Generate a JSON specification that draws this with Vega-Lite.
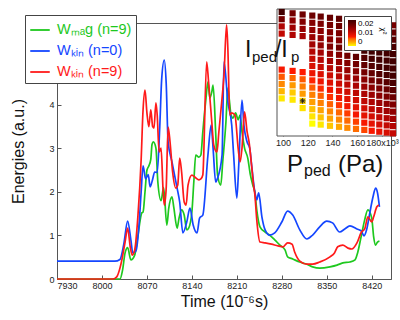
{
  "$schema": "https://vega.github.io/schema/vega-lite/v6.json",
  "width": 334,
  "height": 256,
  "autosize": {"type": "none"},
  "padding": {"left": 57, "top": 23, "right": 9, "bottom": 41},
  "config": {
    "font": "Liberation Sans",
    "view": {"stroke": "#555", "strokeWidth": 1},
    "axis": {"labelFont": "Liberation Sans", "titleFont": "Liberation Sans", "labelFontSize": 9, "domainColor": "#555", "tickColor": "#555", "labelColor": "#222", "titleColor": "#111", "grid": false, "titleFontWeight": "normal"},
    "legend": {"labelFont": "Liberation Sans", "titleFont": "Liberation Sans"}
  },
  "datasets": {
    "energy": [
      {"t":7930,"e":0,"s":"W_mag (n=9)"},{"t":8028,"e":0,"s":"W_mag (n=9)"},{"t":8032,"e":0.2,"s":"W_mag (n=9)"},{"t":8036,"e":0.6,"s":"W_mag (n=9)"},{"t":8040,"e":0.72,"s":"W_mag (n=9)"},{"t":8045,"e":0.44,"s":"W_mag (n=9)"},{"t":8051,"e":0.55,"s":"W_mag (n=9)"},{"t":8056,"e":1.0,"s":"W_mag (n=9)"},{"t":8062,"e":1.52,"s":"W_mag (n=9)"},{"t":8064,"e":1.54,"s":"W_mag (n=9)"},{"t":8067,"e":2.0,"s":"W_mag (n=9)"},{"t":8070,"e":2.5,"s":"W_mag (n=9)"},{"t":8073,"e":2.6,"s":"W_mag (n=9)"},{"t":8076,"e":2.75,"s":"W_mag (n=9)"},{"t":8078,"e":3.1,"s":"W_mag (n=9)"},{"t":8080,"e":3.15,"s":"W_mag (n=9)"},{"t":8084,"e":3.01,"s":"W_mag (n=9)"},{"t":8087,"e":2.23,"s":"W_mag (n=9)"},{"t":8092,"e":1.8,"s":"W_mag (n=9)"},{"t":8096,"e":2.1,"s":"W_mag (n=9)"},{"t":8101,"e":1.24,"s":"W_mag (n=9)"},{"t":8104,"e":1.63,"s":"W_mag (n=9)"},{"t":8109,"e":1.89,"s":"W_mag (n=9)"},{"t":8112,"e":1.63,"s":"W_mag (n=9)"},{"t":8117,"e":1.17,"s":"W_mag (n=9)"},{"t":8120,"e":1.4,"s":"W_mag (n=9)"},{"t":8124,"e":1.59,"s":"W_mag (n=9)"},{"t":8128,"e":1.47,"s":"W_mag (n=9)"},{"t":8132,"e":1.13,"s":"W_mag (n=9)"},{"t":8135,"e":1.17,"s":"W_mag (n=9)"},{"t":8140,"e":1.54,"s":"W_mag (n=9)"},{"t":8143,"e":2.23,"s":"W_mag (n=9)"},{"t":8146,"e":2.85,"s":"W_mag (n=9)"},{"t":8151,"e":2.8,"s":"W_mag (n=9)"},{"t":8154,"e":2.85,"s":"W_mag (n=9)"},{"t":8157,"e":3.38,"s":"W_mag (n=9)"},{"t":8162,"e":4.16,"s":"W_mag (n=9)"},{"t":8165,"e":4.53,"s":"W_mag (n=9)"},{"t":8168,"e":4.16,"s":"W_mag (n=9)"},{"t":8171,"e":4.3,"s":"W_mag (n=9)"},{"t":8173,"e":4.46,"s":"W_mag (n=9)"},{"t":8177,"e":3.38,"s":"W_mag (n=9)"},{"t":8180,"e":2.39,"s":"W_mag (n=9)"},{"t":8185,"e":2.16,"s":"W_mag (n=9)"},{"t":8188,"e":2.69,"s":"W_mag (n=9)"},{"t":8193,"e":3.61,"s":"W_mag (n=9)"},{"t":8196,"e":4.39,"s":"W_mag (n=9)"},{"t":8198,"e":4.16,"s":"W_mag (n=9)"},{"t":8201,"e":3.77,"s":"W_mag (n=9)"},{"t":8204,"e":3.7,"s":"W_mag (n=9)"},{"t":8208,"e":3.82,"s":"W_mag (n=9)"},{"t":8212,"e":3.66,"s":"W_mag (n=9)"},{"t":8215,"e":3.77,"s":"W_mag (n=9)"},{"t":8218,"e":3.38,"s":"W_mag (n=9)"},{"t":8222,"e":3.01,"s":"W_mag (n=9)"},{"t":8227,"e":2.78,"s":"W_mag (n=9)"},{"t":8231,"e":2.4,"s":"W_mag (n=9)"},{"t":8235,"e":2.15,"s":"W_mag (n=9)"},{"t":8238,"e":2.0,"s":"W_mag (n=9)"},{"t":8241,"e":1.59,"s":"W_mag (n=9)"},{"t":8246,"e":1.2,"s":"W_mag (n=9)"},{"t":8254,"e":1.08,"s":"W_mag (n=9)"},{"t":8261,"e":1.01,"s":"W_mag (n=9)"},{"t":8269,"e":0.9,"s":"W_mag (n=9)"},{"t":8277,"e":0.78,"s":"W_mag (n=9)"},{"t":8285,"e":0.67,"s":"W_mag (n=9)"},{"t":8289,"e":0.51,"s":"W_mag (n=9)"},{"t":8297,"e":0.46,"s":"W_mag (n=9)"},{"t":8308,"e":0.39,"s":"W_mag (n=9)"},{"t":8319,"e":0.34,"s":"W_mag (n=9)"},{"t":8328,"e":0.28,"s":"W_mag (n=9)"},{"t":8339,"e":0.25,"s":"W_mag (n=9)"},{"t":8355,"e":0.28,"s":"W_mag (n=9)"},{"t":8366,"e":0.32,"s":"W_mag (n=9)"},{"t":8375,"e":0.37,"s":"W_mag (n=9)"},{"t":8386,"e":0.39,"s":"W_mag (n=9)"},{"t":8394,"e":0.44,"s":"W_mag (n=9)"},{"t":8398,"e":0.6,"s":"W_mag (n=9)"},{"t":8404,"e":1.01,"s":"W_mag (n=9)"},{"t":8409,"e":1.36,"s":"W_mag (n=9)"},{"t":8414,"e":1.59,"s":"W_mag (n=9)"},{"t":8420,"e":1.4,"s":"W_mag (n=9)"},{"t":8423,"e":0.97,"s":"W_mag (n=9)"},{"t":8426,"e":0.78,"s":"W_mag (n=9)"},{"t":8429,"e":0.85,"s":"W_mag (n=9)"},{"t":8432,"e":0.87,"s":"W_mag (n=9)"},
      {"t":7930,"e":0.41,"s":"W_kin (n=0)"},{"t":8020,"e":0.41,"s":"W_kin (n=0)"},{"t":8028,"e":0.45,"s":"W_kin (n=0)"},{"t":8034,"e":0.8,"s":"W_kin (n=0)"},{"t":8040,"e":1.33,"s":"W_kin (n=0)"},{"t":8045,"e":0.9,"s":"W_kin (n=0)"},{"t":8048,"e":0.6,"s":"W_kin (n=0)"},{"t":8053,"e":0.65,"s":"W_kin (n=0)"},{"t":8058,"e":1.3,"s":"W_kin (n=0)"},{"t":8061,"e":2.0,"s":"W_kin (n=0)"},{"t":8064,"e":2.6,"s":"W_kin (n=0)"},{"t":8068,"e":2.3,"s":"W_kin (n=0)"},{"t":8072,"e":2.4,"s":"W_kin (n=0)"},{"t":8075,"e":2.12,"s":"W_kin (n=0)"},{"t":8079,"e":2.3,"s":"W_kin (n=0)"},{"t":8082,"e":2.46,"s":"W_kin (n=0)"},{"t":8086,"e":2.45,"s":"W_kin (n=0)"},{"t":8090,"e":3.5,"s":"W_kin (n=0)"},{"t":8093,"e":4.6,"s":"W_kin (n=0)"},{"t":8097,"e":5.03,"s":"W_kin (n=0)"},{"t":8100,"e":4.5,"s":"W_kin (n=0)"},{"t":8103,"e":3.15,"s":"W_kin (n=0)"},{"t":8109,"e":2.69,"s":"W_kin (n=0)"},{"t":8117,"e":2.09,"s":"W_kin (n=0)"},{"t":8121,"e":1.77,"s":"W_kin (n=0)"},{"t":8126,"e":1.06,"s":"W_kin (n=0)"},{"t":8132,"e":1.31,"s":"W_kin (n=0)"},{"t":8137,"e":1.63,"s":"W_kin (n=0)"},{"t":8142,"e":1.24,"s":"W_kin (n=0)"},{"t":8148,"e":1.06,"s":"W_kin (n=0)"},{"t":8152,"e":1.4,"s":"W_kin (n=0)"},{"t":8157,"e":1.47,"s":"W_kin (n=0)"},{"t":8165,"e":2.85,"s":"W_kin (n=0)"},{"t":8170,"e":3.54,"s":"W_kin (n=0)"},{"t":8173,"e":3.01,"s":"W_kin (n=0)"},{"t":8177,"e":2.23,"s":"W_kin (n=0)"},{"t":8180,"e":2.32,"s":"W_kin (n=0)"},{"t":8187,"e":2.85,"s":"W_kin (n=0)"},{"t":8190,"e":4.99,"s":"W_kin (n=0)"},{"t":8196,"e":4.07,"s":"W_kin (n=0)"},{"t":8202,"e":3.54,"s":"W_kin (n=0)"},{"t":8205,"e":2.85,"s":"W_kin (n=0)"},{"t":8210,"e":1.86,"s":"W_kin (n=0)"},{"t":8213,"e":2.62,"s":"W_kin (n=0)"},{"t":8218,"e":4.11,"s":"W_kin (n=0)"},{"t":8221,"e":3.54,"s":"W_kin (n=0)"},{"t":8226,"e":3.15,"s":"W_kin (n=0)"},{"t":8230,"e":3.01,"s":"W_kin (n=0)"},{"t":8233,"e":2.62,"s":"W_kin (n=0)"},{"t":8238,"e":2.0,"s":"W_kin (n=0)"},{"t":8241,"e":1.82,"s":"W_kin (n=0)"},{"t":8244,"e":1.98,"s":"W_kin (n=0)"},{"t":8249,"e":1.43,"s":"W_kin (n=0)"},{"t":8254,"e":1.13,"s":"W_kin (n=0)"},{"t":8261,"e":1.01,"s":"W_kin (n=0)"},{"t":8269,"e":1.06,"s":"W_kin (n=0)"},{"t":8280,"e":1.31,"s":"W_kin (n=0)"},{"t":8289,"e":1.56,"s":"W_kin (n=0)"},{"t":8297,"e":1.47,"s":"W_kin (n=0)"},{"t":8308,"e":1.13,"s":"W_kin (n=0)"},{"t":8319,"e":0.92,"s":"W_kin (n=0)"},{"t":8328,"e":1.01,"s":"W_kin (n=0)"},{"t":8339,"e":1.2,"s":"W_kin (n=0)"},{"t":8350,"e":1.33,"s":"W_kin (n=0)"},{"t":8359,"e":1.29,"s":"W_kin (n=0)"},{"t":8370,"e":1.08,"s":"W_kin (n=0)"},{"t":8378,"e":1.15,"s":"W_kin (n=0)"},{"t":8386,"e":1.22,"s":"W_kin (n=0)"},{"t":8397,"e":1.15,"s":"W_kin (n=0)"},{"t":8404,"e":1.1,"s":"W_kin (n=0)"},{"t":8408,"e":0.99,"s":"W_kin (n=0)"},{"t":8412,"e":1.13,"s":"W_kin (n=0)"},{"t":8417,"e":1.52,"s":"W_kin (n=0)"},{"t":8422,"e":1.89,"s":"W_kin (n=0)"},{"t":8426,"e":2.09,"s":"W_kin (n=0)"},{"t":8429,"e":1.98,"s":"W_kin (n=0)"},{"t":8432,"e":1.66,"s":"W_kin (n=0)"},
      {"t":7930,"e":0,"s":"W_kin (n=9)"},{"t":8017,"e":0,"s":"W_kin (n=9)"},{"t":8023,"e":0.05,"s":"W_kin (n=9)"},{"t":8028,"e":0.25,"s":"W_kin (n=9)"},{"t":8031,"e":0.44,"s":"W_kin (n=9)"},{"t":8036,"e":0.85,"s":"W_kin (n=9)"},{"t":8040,"e":1.17,"s":"W_kin (n=9)"},{"t":8044,"e":0.74,"s":"W_kin (n=9)"},{"t":8047,"e":0.55,"s":"W_kin (n=9)"},{"t":8051,"e":0.67,"s":"W_kin (n=9)"},{"t":8056,"e":1.45,"s":"W_kin (n=9)"},{"t":8061,"e":2.74,"s":"W_kin (n=9)"},{"t":8064,"e":3.89,"s":"W_kin (n=9)"},{"t":8067,"e":4.34,"s":"W_kin (n=9)"},{"t":8070,"e":3.82,"s":"W_kin (n=9)"},{"t":8073,"e":3.5,"s":"W_kin (n=9)"},{"t":8076,"e":3.89,"s":"W_kin (n=9)"},{"t":8079,"e":3.5,"s":"W_kin (n=9)"},{"t":8081,"e":3.47,"s":"W_kin (n=9)"},{"t":8084,"e":4.05,"s":"W_kin (n=9)"},{"t":8086,"e":3.77,"s":"W_kin (n=9)"},{"t":8089,"e":2.92,"s":"W_kin (n=9)"},{"t":8092,"e":3.01,"s":"W_kin (n=9)"},{"t":8095,"e":2.09,"s":"W_kin (n=9)"},{"t":8097,"e":1.7,"s":"W_kin (n=9)"},{"t":8100,"e":2.09,"s":"W_kin (n=9)"},{"t":8103,"e":3.49,"s":"W_kin (n=9)"},{"t":8106,"e":3.15,"s":"W_kin (n=9)"},{"t":8110,"e":2.46,"s":"W_kin (n=9)"},{"t":8115,"e":2.09,"s":"W_kin (n=9)"},{"t":8118,"e":2.16,"s":"W_kin (n=9)"},{"t":8121,"e":2.78,"s":"W_kin (n=9)"},{"t":8124,"e":2.46,"s":"W_kin (n=9)"},{"t":8128,"e":1.77,"s":"W_kin (n=9)"},{"t":8131,"e":1.7,"s":"W_kin (n=9)"},{"t":8134,"e":2.16,"s":"W_kin (n=9)"},{"t":8140,"e":2.39,"s":"W_kin (n=9)"},{"t":8145,"e":2.34,"s":"W_kin (n=9)"},{"t":8151,"e":2.28,"s":"W_kin (n=9)"},{"t":8154,"e":2.3,"s":"W_kin (n=9)"},{"t":8157,"e":2.39,"s":"W_kin (n=9)"},{"t":8163,"e":4.99,"s":"W_kin (n=9)"},{"t":8166,"e":4.53,"s":"W_kin (n=9)"},{"t":8171,"e":3.61,"s":"W_kin (n=9)"},{"t":8174,"e":3.08,"s":"W_kin (n=9)"},{"t":8179,"e":2.92,"s":"W_kin (n=9)"},{"t":8182,"e":3.38,"s":"W_kin (n=9)"},{"t":8187,"e":4.16,"s":"W_kin (n=9)"},{"t":8190,"e":4.69,"s":"W_kin (n=9)"},{"t":8194,"e":5.84,"s":"W_kin (n=9)"},{"t":8196,"e":5.3,"s":"W_kin (n=9)"},{"t":8199,"e":3.77,"s":"W_kin (n=9)"},{"t":8202,"e":3.82,"s":"W_kin (n=9)"},{"t":8207,"e":3.77,"s":"W_kin (n=9)"},{"t":8212,"e":3.01,"s":"W_kin (n=9)"},{"t":8215,"e":2.69,"s":"W_kin (n=9)"},{"t":8218,"e":3.01,"s":"W_kin (n=9)"},{"t":8222,"e":3.84,"s":"W_kin (n=9)"},{"t":8226,"e":3.38,"s":"W_kin (n=9)"},{"t":8229,"e":3.15,"s":"W_kin (n=9)"},{"t":8233,"e":2.6,"s":"W_kin (n=9)"},{"t":8236,"e":2.15,"s":"W_kin (n=9)"},{"t":8238,"e":1.95,"s":"W_kin (n=9)"},{"t":8241,"e":1.36,"s":"W_kin (n=9)"},{"t":8246,"e":0.85,"s":"W_kin (n=9)"},{"t":8254,"e":0.83,"s":"W_kin (n=9)"},{"t":8264,"e":0.8,"s":"W_kin (n=9)"},{"t":8274,"e":0.76,"s":"W_kin (n=9)"},{"t":8282,"e":0.74,"s":"W_kin (n=9)"},{"t":8289,"e":0.83,"s":"W_kin (n=9)"},{"t":8296,"e":0.8,"s":"W_kin (n=9)"},{"t":8300,"e":0.62,"s":"W_kin (n=9)"},{"t":8308,"e":0.41,"s":"W_kin (n=9)"},{"t":8319,"e":0.34,"s":"W_kin (n=9)"},{"t":8328,"e":0.34,"s":"W_kin (n=9)"},{"t":8339,"e":0.39,"s":"W_kin (n=9)"},{"t":8355,"e":0.51,"s":"W_kin (n=9)"},{"t":8362,"e":0.6,"s":"W_kin (n=9)"},{"t":8367,"e":0.74,"s":"W_kin (n=9)"},{"t":8375,"e":0.78,"s":"W_kin (n=9)"},{"t":8383,"e":0.71,"s":"W_kin (n=9)"},{"t":8389,"e":0.69,"s":"W_kin (n=9)"},{"t":8397,"e":0.83,"s":"W_kin (n=9)"},{"t":8404,"e":1.08,"s":"W_kin (n=9)"},{"t":8409,"e":1.15,"s":"W_kin (n=9)"},{"t":8414,"e":1.43,"s":"W_kin (n=9)"},{"t":8420,"e":1.31,"s":"W_kin (n=9)"},{"t":8423,"e":1.43,"s":"W_kin (n=9)"},{"t":8428,"e":1.66,"s":"W_kin (n=9)"},{"t":8431,"e":1.7,"s":"W_kin (n=9)"}
    ],
    "scan": [
      {"P":99,"I":0.174,"chi":0.02},{"P":99,"I":0.1668,"chi":0.016},{"P":99,"I":0.1596,"chi":0.0121},{"P":99,"I":0.1524,"chi":0.0109},{"P":99,"I":0.1164,"chi":0.0075},{"P":99,"I":0.1092,"chi":0.0058},{"P":99,"I":0.102,"chi":0.0042},{"P":99,"I":0.0948,"chi":0.0025},{"P":99,"I":0.0876,"chi":0.0008},
      {"P":107.8,"I":0.1727,"chi":0.016},{"P":107.8,"I":0.1655,"chi":0.0144},{"P":107.8,"I":0.1583,"chi":0.0132},{"P":107.8,"I":0.1511,"chi":0.012},{"P":107.8,"I":0.1151,"chi":0.007},{"P":107.8,"I":0.1079,"chi":0.0052},{"P":107.8,"I":0.1007,"chi":0.0035},{"P":107.8,"I":0.0935,"chi":0.0018},{"P":107.8,"I":0.0863,"chi":0.0008},
      {"P":115.9,"I":0.1715,"chi":0.0163},{"P":115.9,"I":0.1643,"chi":0.015},{"P":115.9,"I":0.1571,"chi":0.0138},{"P":115.9,"I":0.1499,"chi":0.0128},{"P":115.9,"I":0.1139,"chi":0.007},{"P":115.9,"I":0.1067,"chi":0.0058},{"P":115.9,"I":0.0995,"chi":0.0046},{"P":115.9,"I":0.0923,"chi":0.0034},{"P":115.9,"I":0.0851,"chi":0.0015,"best":1},{"P":115.9,"I":0.0779,"chi":0.001},
      {"P":123.7,"I":0.1704,"chi":0.0165},{"P":123.7,"I":0.1632,"chi":0.015},{"P":123.7,"I":0.156,"chi":0.014},{"P":123.7,"I":0.1488,"chi":0.0135},{"P":123.7,"I":0.1416,"chi":0.013},{"P":123.7,"I":0.1344,"chi":0.0118},{"P":123.7,"I":0.1272,"chi":0.0106},{"P":123.7,"I":0.12,"chi":0.0094},{"P":123.7,"I":0.1128,"chi":0.0081},{"P":123.7,"I":0.1056,"chi":0.0069},{"P":123.7,"I":0.0984,"chi":0.0057},{"P":123.7,"I":0.0912,"chi":0.0045},{"P":123.7,"I":0.084,"chi":0.0033},{"P":123.7,"I":0.0768,"chi":0.0021},{"P":123.7,"I":0.0696,"chi":0.0009},{"P":123.7,"I":0.0624,"chi":0},
      {"P":130.5,"I":0.1694,"chi":0.0168},{"P":130.5,"I":0.1622,"chi":0.0155},{"P":130.5,"I":0.155,"chi":0.0145},{"P":130.5,"I":0.1478,"chi":0.014},{"P":130.5,"I":0.1406,"chi":0.0141},{"P":130.5,"I":0.1334,"chi":0.0129},{"P":130.5,"I":0.1262,"chi":0.0117},{"P":130.5,"I":0.119,"chi":0.0105},{"P":130.5,"I":0.1118,"chi":0.0092},{"P":130.5,"I":0.1046,"chi":0.008},{"P":130.5,"I":0.0974,"chi":0.0068},{"P":130.5,"I":0.0902,"chi":0.0056},{"P":130.5,"I":0.083,"chi":0.0044},{"P":130.5,"I":0.0758,"chi":0.0032},{"P":130.5,"I":0.0686,"chi":0.002},{"P":130.5,"I":0.0614,"chi":0.0008},
      {"P":138,"I":0.1682,"chi":0.017},{"P":138,"I":0.161,"chi":0.016},{"P":138,"I":0.1538,"chi":0.015},{"P":138,"I":0.1466,"chi":0.0145},{"P":138,"I":0.1394,"chi":0.0152},{"P":138,"I":0.1322,"chi":0.014},{"P":138,"I":0.125,"chi":0.0128},{"P":138,"I":0.1178,"chi":0.0116},{"P":138,"I":0.1106,"chi":0.0103},{"P":138,"I":0.1034,"chi":0.0091},{"P":138,"I":0.0962,"chi":0.0079},{"P":138,"I":0.089,"chi":0.0067},{"P":138,"I":0.0818,"chi":0.0055},{"P":138,"I":0.0746,"chi":0.0043},{"P":138,"I":0.0674,"chi":0.0031},{"P":138,"I":0.0602,"chi":0.0019},
      {"P":145.3,"I":0.1672,"chi":0.0175},{"P":145.3,"I":0.16,"chi":0.0165},{"P":145.3,"I":0.1528,"chi":0.0155},{"P":145.3,"I":0.1456,"chi":0.015},{"P":145.3,"I":0.1384,"chi":0.0163},{"P":145.3,"I":0.1312,"chi":0.0151},{"P":145.3,"I":0.124,"chi":0.0139},{"P":145.3,"I":0.1168,"chi":0.0127},{"P":145.3,"I":0.1096,"chi":0.0114},{"P":145.3,"I":0.1024,"chi":0.0102},{"P":145.3,"I":0.0952,"chi":0.009},{"P":145.3,"I":0.088,"chi":0.0078},{"P":145.3,"I":0.0808,"chi":0.0066},{"P":145.3,"I":0.0736,"chi":0.0054},{"P":145.3,"I":0.0664,"chi":0.0042},{"P":145.3,"I":0.0592,"chi":0.003},
      {"P":152,"I":0.1302,"chi":0.0162},{"P":152,"I":0.123,"chi":0.015},{"P":152,"I":0.1158,"chi":0.0138},{"P":152,"I":0.1086,"chi":0.0125},{"P":152,"I":0.1014,"chi":0.0113},{"P":152,"I":0.0942,"chi":0.0101},{"P":152,"I":0.087,"chi":0.0089},{"P":152,"I":0.0798,"chi":0.0077},{"P":152,"I":0.0726,"chi":0.0065},{"P":152,"I":0.0654,"chi":0.0053},{"P":152,"I":0.0582,"chi":0.0041},
      {"P":159,"I":0.1291,"chi":0.0173},{"P":159,"I":0.1219,"chi":0.0161},{"P":159,"I":0.1147,"chi":0.0149},{"P":159,"I":0.1075,"chi":0.0136},{"P":159,"I":0.1003,"chi":0.0124},{"P":159,"I":0.0931,"chi":0.0112},{"P":159,"I":0.0859,"chi":0.01},{"P":159,"I":0.0787,"chi":0.0088},{"P":159,"I":0.0715,"chi":0.0076},{"P":159,"I":0.0643,"chi":0.0064},{"P":159,"I":0.0571,"chi":0.0052},
      {"P":165.7,"I":0.1353,"chi":0.0196},{"P":165.7,"I":0.1281,"chi":0.0184},{"P":165.7,"I":0.1209,"chi":0.0172},{"P":165.7,"I":0.1137,"chi":0.016},{"P":165.7,"I":0.1065,"chi":0.0147},{"P":165.7,"I":0.0993,"chi":0.0135},{"P":165.7,"I":0.0921,"chi":0.0123},{"P":165.7,"I":0.0849,"chi":0.0111},{"P":165.7,"I":0.0777,"chi":0.0099},{"P":165.7,"I":0.0705,"chi":0.0087},{"P":165.7,"I":0.0633,"chi":0.0075},{"P":165.7,"I":0.0561,"chi":0.0063},
      {"P":171.7,"I":0.1344,"chi":0.02},{"P":171.7,"I":0.1272,"chi":0.0195},{"P":171.7,"I":0.12,"chi":0.0183},{"P":171.7,"I":0.1128,"chi":0.0171},{"P":171.7,"I":0.1056,"chi":0.0158},{"P":171.7,"I":0.0984,"chi":0.0146},{"P":171.7,"I":0.0912,"chi":0.0134},{"P":171.7,"I":0.084,"chi":0.0122},{"P":171.7,"I":0.0768,"chi":0.011},{"P":171.7,"I":0.0696,"chi":0.0098},{"P":171.7,"I":0.0624,"chi":0.0086},{"P":171.7,"I":0.0552,"chi":0.0074},
      {"P":177.8,"I":0.1335,"chi":0.02},{"P":177.8,"I":0.1263,"chi":0.02},{"P":177.8,"I":0.1191,"chi":0.0194},{"P":177.8,"I":0.1119,"chi":0.0182},{"P":177.8,"I":0.1047,"chi":0.0169},{"P":177.8,"I":0.0975,"chi":0.0157},{"P":177.8,"I":0.0903,"chi":0.0145},{"P":177.8,"I":0.0831,"chi":0.0133},{"P":177.8,"I":0.0759,"chi":0.0121},{"P":177.8,"I":0.0687,"chi":0.0109},{"P":177.8,"I":0.0615,"chi":0.0097},{"P":177.8,"I":0.0543,"chi":0.0085},
      {"P":183.8,"I":0.1614,"chi":0.016},{"P":183.8,"I":0.1542,"chi":0.017},{"P":183.8,"I":0.147,"chi":0.018},{"P":183.8,"I":0.1398,"chi":0.019},{"P":183.8,"I":0.1326,"chi":0.02},{"P":183.8,"I":0.1254,"chi":0.02},{"P":183.8,"I":0.1182,"chi":0.02},{"P":183.8,"I":0.111,"chi":0.0193},{"P":183.8,"I":0.1038,"chi":0.018},{"P":183.8,"I":0.0966,"chi":0.0168},{"P":183.8,"I":0.0894,"chi":0.0156},{"P":183.8,"I":0.0822,"chi":0.0144},{"P":183.8,"I":0.075,"chi":0.0132},{"P":183.8,"I":0.0678,"chi":0.012},{"P":183.8,"I":0.0606,"chi":0.0108},{"P":183.8,"I":0.0534,"chi":0.0096},
      {"P":188.9,"I":0.1607,"chi":0.016},{"P":188.9,"I":0.1535,"chi":0.017},{"P":188.9,"I":0.1463,"chi":0.018},{"P":188.9,"I":0.1391,"chi":0.019},{"P":188.9,"I":0.1319,"chi":0.02},{"P":188.9,"I":0.1247,"chi":0.02},{"P":188.9,"I":0.1175,"chi":0.02},{"P":188.9,"I":0.1103,"chi":0.02},{"P":188.9,"I":0.1031,"chi":0.0191},{"P":188.9,"I":0.0959,"chi":0.0179},{"P":188.9,"I":0.0887,"chi":0.0167},{"P":188.9,"I":0.0815,"chi":0.0155},{"P":188.9,"I":0.0743,"chi":0.0143},{"P":188.9,"I":0.0671,"chi":0.0131},{"P":188.9,"I":0.0599,"chi":0.0119},{"P":188.9,"I":0.0527,"chi":0.0107}
    ]
  },
  "layer": [
    {
      "data": {"name": "energy"},
      "mark": {"type": "line", "interpolate": "monotone", "strokeWidth": 1.7},
      "encoding": {
        "x": {"field": "t", "type": "quantitative",
          "scale": {"domain": [7930, 8450], "nice": false, "zero": false},
          "axis": {"values": [7930, 8000, 8070, 8140, 8210, 8280, 8350, 8420], "format": "d", "tickSize": -4, "labelPadding": 6, "title": "Time (10⁻⁶s)", "titleFontSize": 16, "titlePadding": 3}},
        "y": {"field": "e", "type": "quantitative",
          "scale": {"domain": [0, 5.885], "nice": false},
          "axis": {"values": [0, 1, 2, 3, 4, 5], "tickSize": -4, "labelPadding": 7, "title": "Energies (a.u.)", "titleFontSize": 16, "titlePadding": 22}},
        "color": {"field": "s", "type": "nominal",
          "scale": {"domain": ["W_mag (n=9)", "W_kin (n=0)", "W_kin (n=9)"], "range": ["#1ec81e", "#1446ff", "#ff1a1a"]},
          "legend": {"orient": "none", "legendX": -32, "legendY": -8, "title": null, "symbolType": "stroke", "symbolStrokeWidth": 1.8, "symbolSize": 380, "labelFontSize": 14.5, "labelOffset": 6, "rowPadding": 3, "padding": 4, "strokeColor": "#444", "fillColor": "white",
            "labelExpr": "datum.value == 'W_mag (n=9)' ? 'Wₘₐg (n=9)' : datum.value == 'W_kin (n=0)' ? 'Wₖᵢₙ (n=0)' : 'Wₖᵢₙ (n=9)'",
            "labelColor": {"expr": "datum.value == 'W_mag (n=9)' ? '#1ec81e' : datum.value == 'W_kin (n=0)' ? '#1446ff' : '#ff1a1a'"}}}
      }
    },
    {
      "layer": [
        {
          "data": {"values": [{}]},
          "mark": {"type": "rect", "fill": "white", "stroke": "#555", "strokeWidth": 1},
          "encoding": {
            "x": {"datum": 95.2, "type": "quantitative", "scale": {"domain": [95.2, 191.3], "range": [220, 339], "nice": false, "zero": false},
              "axis": {"orient": "bottom", "offset": -143, "values": [100, 120, 140, 160, 180], "domain": false, "tickSize": -3, "labelPadding": 5, "title": null,
                "labelExpr": "datum.value == 180 ? '180x10³' : datum.label"}},
            "x2": {"datum": 191.3},
            "y": {"datum": 0.05, "type": "quantitative", "scale": {"domain": [0.05, 0.177], "range": [113, -14], "nice": false, "zero": false}, "axis": null},
            "y2": {"datum": 0.177}
          }
        },
        {
          "data": {"name": "scan"},
          "mark": {"type": "point", "shape": "square", "filled": true, "size": 38, "opacity": 1},
          "encoding": {
            "x": {"field": "P", "type": "quantitative"},
            "y": {"field": "I", "type": "quantitative"},
            "color": {"field": "chi", "type": "quantitative",
              "scale": {"domain": [0, 0.0035, 0.007, 0.0145, 0.02], "range": ["#ffff00", "#ff9900", "#ff1a00", "#8c0000", "#000000"], "clamp": true},
              "legend": {"orient": "none", "legendX": 287, "legendY": -7, "direction": "vertical", "title": "χ²", "titleOrient": "right", "titleFontSize": 8, "titleFontWeight": "normal", "gradientLength": 26, "gradientThickness": 8, "values": [0, 0.01, 0.02], "labelFontSize": 8, "labelOffset": 2, "padding": 4, "strokeColor": "#444", "fillColor": "white",
                "labelExpr": "datum.value == 0 ? '0' : format(datum.value, '.2f')"}}
          }
        },
        {
          "data": {"name": "scan"},
          "transform": [{"filter": "datum.best == 1"}],
          "mark": {"type": "point", "shape": "M-1,0L1,0M0,-1L0,1M-0.7,-0.7L0.7,0.7M-0.7,0.7L0.7,-0.7", "filled": false, "stroke": "#222", "strokeWidth": 1, "size": 30, "opacity": 1},
          "encoding": {
            "x": {"field": "P", "type": "quantitative"},
            "y": {"field": "I", "type": "quantitative"}
          }
        },
        {"data": {"values": [{}]}, "mark": {"type": "text", "text": "I", "fontSize": 23, "align": "left", "baseline": "alphabetic", "color": "#111"},
          "encoding": {"x": {"datum": 69.3, "type": "quantitative"}, "y": {"datum": 0.129, "type": "quantitative"}}},
        {"data": {"values": [{}]}, "mark": {"type": "text", "text": "ped", "fontSize": 15, "align": "left", "baseline": "alphabetic", "color": "#111"},
          "encoding": {"x": {"datum": 75, "type": "quantitative"}, "y": {"datum": 0.124, "type": "quantitative"}}},
        {"data": {"values": [{}]}, "mark": {"type": "text", "text": "/I", "fontSize": 23, "align": "left", "baseline": "alphabetic", "color": "#111"},
          "encoding": {"x": {"datum": 93.5, "type": "quantitative"}, "y": {"datum": 0.129, "type": "quantitative"}}},
        {"data": {"values": [{}]}, "mark": {"type": "text", "text": "p", "fontSize": 15, "align": "left", "baseline": "alphabetic", "color": "#111"},
          "encoding": {"x": {"datum": 106.5, "type": "quantitative"}, "y": {"datum": 0.124, "type": "quantitative"}}},
        {"data": {"values": [{}]}, "mark": {"type": "text", "text": "P", "fontSize": 24, "align": "left", "baseline": "alphabetic", "color": "#111"},
          "encoding": {"x": {"datum": 103.2, "type": "quantitative"}, "y": {"datum": 0.014, "type": "quantitative"}}},
        {"data": {"values": [{}]}, "mark": {"type": "text", "text": "ped", "fontSize": 16, "align": "left", "baseline": "alphabetic", "color": "#111"},
          "encoding": {"x": {"datum": 117, "type": "quantitative"}, "y": {"datum": 0.01, "type": "quantitative"}}},
        {"data": {"values": [{}]}, "mark": {"type": "text", "text": "(Pa)", "fontSize": 24, "align": "left", "baseline": "alphabetic", "color": "#111"},
          "encoding": {"x": {"datum": 144.4, "type": "quantitative"}, "y": {"datum": 0.014, "type": "quantitative"}}}
      ]
    }
  ],
  "resolve": {"scale": {"x": "independent", "y": "independent", "color": "independent"}}
}
